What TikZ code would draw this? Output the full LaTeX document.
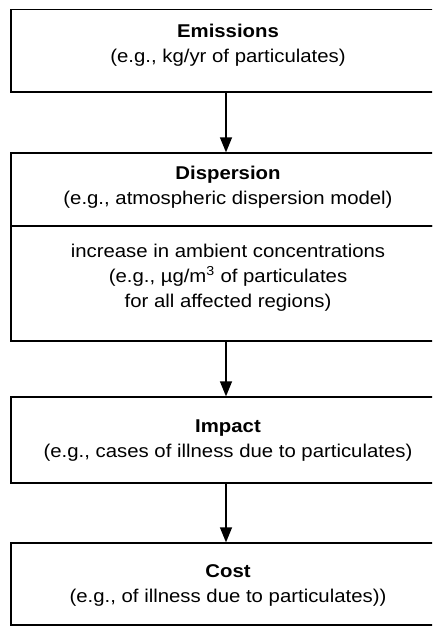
\documentclass[tikz,border=0pt]{standalone}
\usepackage{fontspec}
\setmainfont[FakeStretch=1.1]{Liberation Sans}
\usetikzlibrary{arrows.meta}
\begin{document}
\begin{tikzpicture}[x=1pt,y=-1pt,
  box/.style={draw, line width=1.3pt, rectangle, inner sep=0pt, minimum width=434pt},
  txt/.style={anchor=base, inner sep=0pt, font=\fontsize{18.5}{22}\selectfont},
  ttl/.style={txt, font=\fontsize{18.5}{22}\selectfont\bfseries},
  arr/.style={line width=1.3pt, -{Triangle[width=12pt,length=15pt]}}]
\useasboundingbox (0,0) rectangle (432,627);
\clip (0,0) rectangle (432,627);
\fill[white] (0,0) rectangle (432,627);
% boxes
\node[box, minimum height=82.5pt] (emis) at (228,50.75) {};
\node[box, minimum height=73pt] (disp) at (228,189.5) {};
\node[box, minimum height=115pt] (conc) at (228,283.5) {};
\node[box, minimum height=86pt] (imp) at (228,440) {};
\node[box, minimum height=82pt] (cost) at (228,584) {};
% texts
\node[ttl] (t1) at (228,37) {Emissions};
\node[txt] (t1b) at (228,62) {(e.g., kg/yr of particulates)};
\node[ttl] (t2) at (228,179) {Dispersion};
\node[txt] (t2b) at (228,204) {(e.g., atmospheric dispersion model)};
\node[txt] (t3a) at (228,257) {increase in ambient concentrations};
\node[txt] (t3b) at (228,282) {(e.g., µg/m\textsuperscript{3} of particulates};
\node[txt] (t3c) at (228,307) {for all affected regions)};
\node[ttl] (t4) at (228,432) {Impact};
\node[txt] (t4b) at (228,457) {(e.g., cases of illness due to particulates)};
\node[ttl] (t5) at (228,577) {Cost};
\node[txt] (t5b) at (228,602) {(e.g., of illness due to particulates))};
% arrows
\draw[arr] ([xshift=-2pt]emis.south) -- ([xshift=-2pt]disp.north);
\draw[arr] ([xshift=-2pt]conc.south) -- ([xshift=-2pt]imp.north);
\draw[arr] ([xshift=-2pt]imp.south) -- ([xshift=-2pt]cost.north);
\end{tikzpicture}
\end{document}
